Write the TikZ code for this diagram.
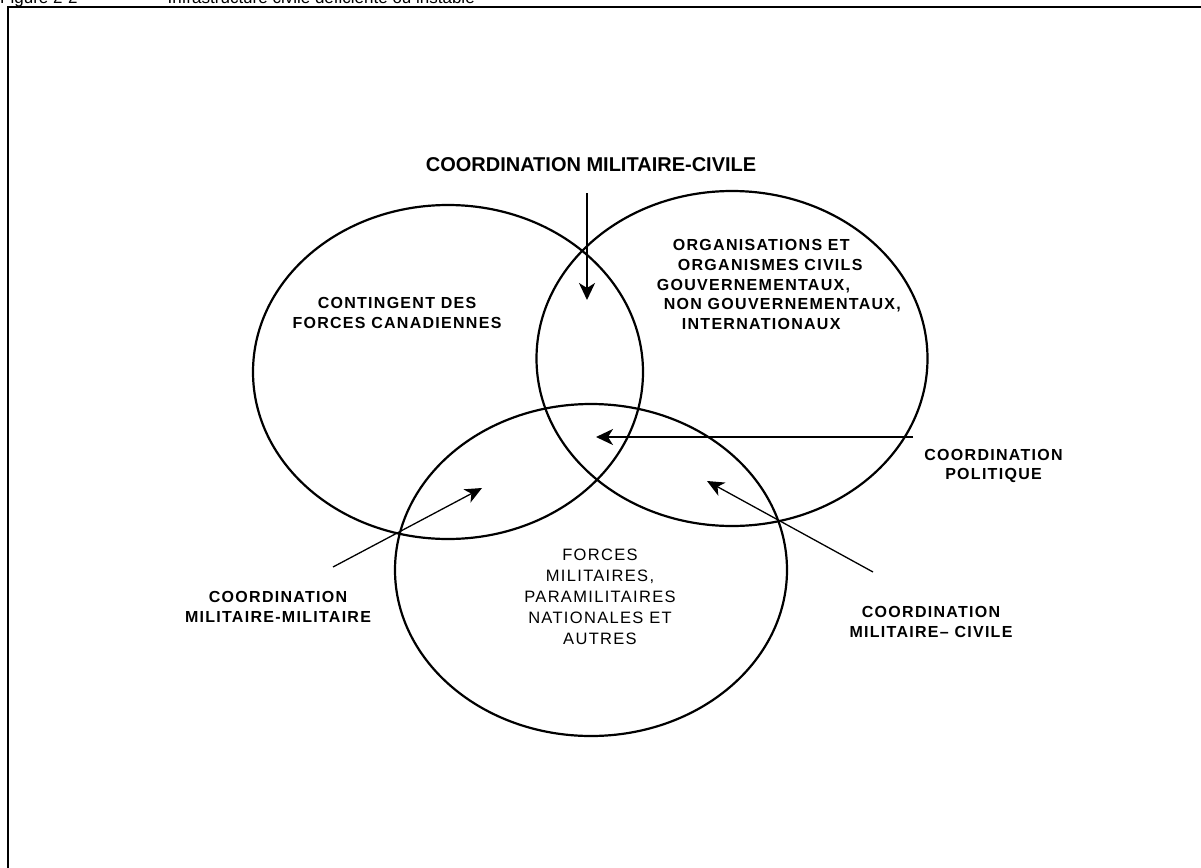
\documentclass[tikz,border=0pt]{standalone}
\usepackage{fontspec}
\setmainfont{Liberation Sans}
\newfontfamily\spaced[LetterSpace=8]{Liberation Sans}
\usetikzlibrary{shapes.geometric,arrows.meta}
\begin{document}
\begin{tikzpicture}[x=1pt,y=-1pt,
  zone/.style={draw, ellipse, line width=2.2pt, inner sep=0pt},
  tag/.style={font=\spaced\bfseries\fontsize{16}{19.7}\selectfont, align=center, inner sep=0pt, anchor=north},
  plainlbl/.style={font=\spaced\fontsize{16.5}{21}\selectfont, align=center, inner sep=0pt, anchor=north},
  flowthick/.style={line width=2.2pt, -{Stealth[length=17pt,width=16pt,inset=5pt]}},
  flowthin/.style={line width=1.3pt, -{Stealth[length=17pt,width=15pt,inset=5pt]}}]

  % page area and outer frame
  \useasboundingbox (0,0) rectangle (1201,867);
  \clip (0,0) rectangle (1201,867);
  \fill[white] (0,0) rectangle (1201,867);
  \draw[line width=2pt] (8,7) rectangle (1215,885);

  % figure caption along the top edge
  \node[anchor=base west, inner sep=0pt, font=\fontsize{17}{20}\selectfont] (caption) at (0,4)
    {Figure 2-2\hspace{36pt}—\hspace{37pt}Infrastructure civile déficiente ou instable};

  % the three overlapping zones
  \node[zone, minimum width=390pt, minimum height=334pt] (canada) at (448,372) {};
  \node[zone, minimum width=391pt, minimum height=335pt] (civil) at (732,358.5) {};
  \node[zone, minimum width=392pt, minimum height=332pt] (local) at (591,570) {};

  % zone labels
  \node[tag] (canadalbl) at (397,297) {CONTINGENT DES\\FORCES CANADIENNES};
  \node[tag, anchor=north west, align=left] (civillbl) at (656.7,239.3)
    {\hspace*{16pt}ORGANISATIONS ET\\
     \hspace*{21pt}ORGANISMES CIVILS\\
     GOUVERNEMENTAUX,\\
     \hspace*{7pt}NON GOUVERNEMENTAUX,\\
     \hspace*{25pt}INTERNATIONAUX};
  \node[plainlbl] (locallbl) at (600,548.3)
    {FORCES\\MILITAIRES,\\PARAMILITAIRES\\NATIONALES ET\\AUTRES};

  % coordination labels
  \node[inner sep=0pt, anchor=north, font=\bfseries\fontsize{20}{24}\selectfont] (topcoord) at (591,157)
    {COORDINATION MILITAIRE-CIVILE};
  \node[tag] (politcoord) at (993.5,448.7) {COORDINATION\\POLITIQUE};
  \node[tag] (milcoord) at (278,591.3) {COORDINATION\\MILITAIRE-MILITAIRE};
  \node[tag] (civcoord) at (931,606.3) {COORDINATION\\MILITAIRE– CIVILE};

  % arrow end points
  \coordinate (topS) at (587,193);
  \coordinate (topE) at (587,300);
  \coordinate (polS) at (913,437);
  \coordinate (polE) at (596,437);
  \coordinate (milS) at (333,567);
  \coordinate (milE) at (482,488);
  \coordinate (civS) at (873,572);
  \coordinate (civE) at (707,481);

  % coordination arrows
  \draw[flowthick] (topS) -- (topE);
  \draw[flowthick, line width=2pt] (polS) -- (polE);
  \draw[flowthin] (milS) -- (milE);
  \draw[flowthin] (civS) -- (civE);
\end{tikzpicture}
\end{document}
